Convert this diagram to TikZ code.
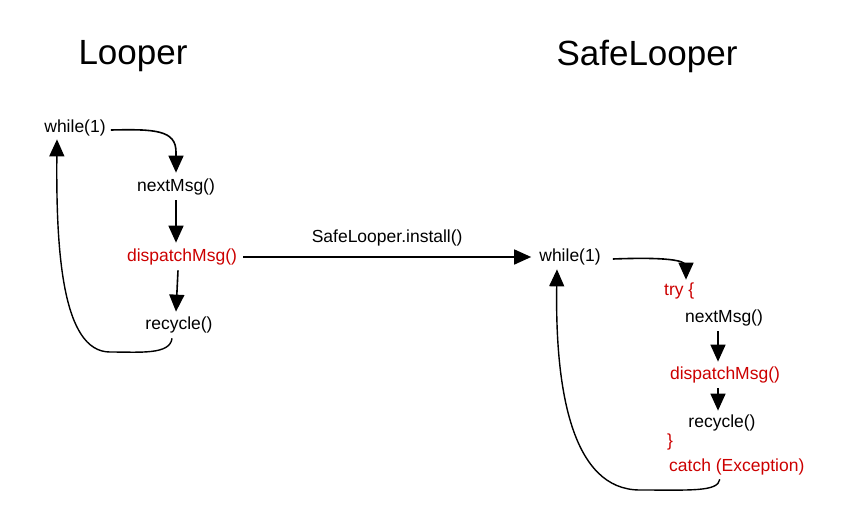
\documentclass[tikz,border=0pt]{standalone}
\usepackage{fontspec}
\setmainfont{Liberation Sans}
\usetikzlibrary{arrows.meta}
\definecolor{codered}{RGB}{204,0,0}
\begin{document}
\begin{tikzpicture}[x=1pt,y=-1pt,
  lbl/.style={inner sep=0pt,font=\fontsize{17.5}{20}\selectfont},
  redlbl/.style={lbl,text=codered},
  ttl/.style={inner sep=0pt,font=\fontsize{35}{40}\selectfont},
  conn/.style={line width=1.6pt,-{Triangle[length=17pt,width=15pt]}},
  loopline/.style={line width=1.4pt,-{Triangle[length=17pt,width=15pt]}}]
\useasboundingbox (0,0) rectangle (859,530);
% titles
\node[ttl] (t1) at (133,56) {Looper};
\node[ttl] (t2) at (647,56) {SafeLooper};
% left loop
\node[lbl] (w1) at (75,128) {while(1)};
\node[lbl] (n1) at (176,187) {nextMsg()};
\node[redlbl] (d1) at (182,257) {dispatchMsg()};
\node[lbl] (r1) at (179,325) {recycle()};
% right loop
\node[lbl] (w2) at (570,257) {while(1)};
\node[redlbl,anchor=west] (try) at (664,291) {try \{};
\node[lbl] (n2) at (724,318) {nextMsg()};
\node[redlbl] (d2) at (725,375) {dispatchMsg()};
\node[lbl] (r2) at (722,423) {recycle()};
\node[redlbl,anchor=west] (cb) at (667,442) {\}};
\node[redlbl,anchor=west] (ca) at (669,467) {catch (Exception)};
% install arrow
\draw[conn] ([xshift=6pt]d1.east) -- ([xshift=-8pt]w2.west)
  node[midway,above=10pt,lbl] (inst) {SafeLooper.install()};
% left connectors
\draw[conn] ([xshift=5pt,yshift=-2pt]w1.east) .. controls (155,129) and (176,130) .. (176,152) -- ([yshift=6pt]n1.north);
\draw[conn] ([yshift=-5pt]n1.south) -- ([xshift=-6pt,yshift=6pt]d1.north);
\draw[conn] ([xshift=-4pt,yshift=-5pt]d1.south) -- ([xshift=-3pt,yshift=5pt]r1.north);
\draw[loopline] ([xshift=-7pt,yshift=-5pt]r1.south) .. controls (170,355) and (140,352) .. (110,352)
  .. controls (62,352) and (56,250) .. ([xshift=-18pt,yshift=-3pt]w1.south);
% right connectors
\draw[conn] ([xshift=12pt,yshift=-2pt]w2.east) .. controls (665,257) and (686,260) .. (686,266) -- ([xshift=22pt,yshift=3pt]try.north west);
\draw[conn] ([xshift=-6pt,yshift=-5pt]n2.south) -- ([xshift=-7pt,yshift=5pt]d2.north);
\draw[conn] ([xshift=-7pt,yshift=-5pt]d2.south) -- ([xshift=-4pt,yshift=4pt]r2.north);
\draw[loopline] ([xshift=-17pt,yshift=-4pt]ca.south) .. controls (718,492) and (690,490) .. (640,490)
  .. controls (572,490) and (555,390) .. ([xshift=-13pt,yshift=-4pt]w2.south);
\end{tikzpicture}
\end{document}
